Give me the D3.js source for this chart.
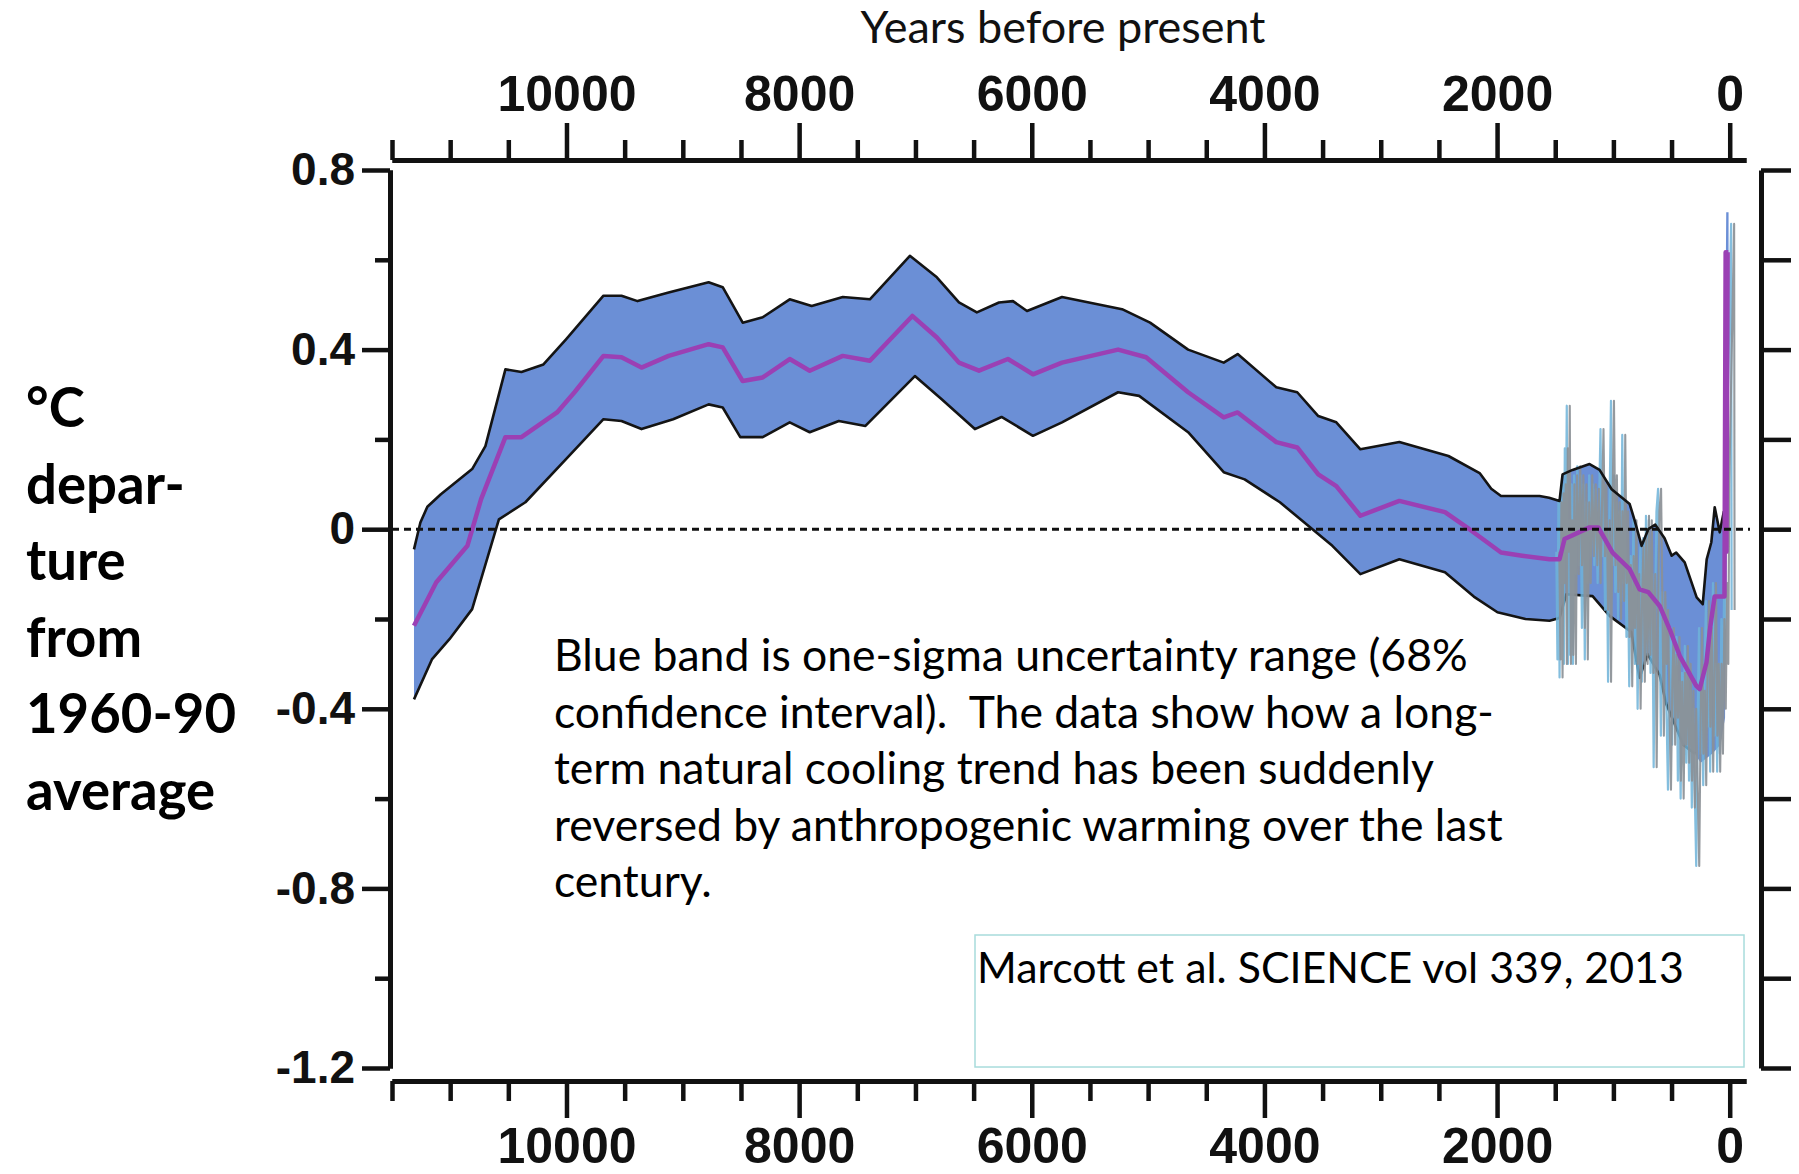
<!DOCTYPE html>
<html>
<head>
<meta charset="utf-8">
<title>Holocene temperature reconstruction</title>
<script src="https://cdn.jsdelivr.net/npm/d3@7"></script>
<style>
  html, body { margin: 0; padding: 0; background: #ffffff; }
  svg { display: block; }
</style>
</head>
<body>
<svg id="chart" width="1799" height="1174"></svg>
<script>
// ---- Data: years before present, temperature anomaly (°C vs 1960-90) ----
const upperBand = [
  [11311,-0.045],[11256,0.015],[11196,0.05],[11080,0.078],[10811,0.134],[10697,0.185],
  [10525,0.356],[10387,0.35],[10198,0.367],[10004,0.423],[9682,0.52],[9527,0.52],
  [9389,0.508],[9122,0.527],[8778,0.55],[8657,0.539],[8485,0.46],[8313,0.472],
  [8081,0.512],[7892,0.497],[7625,0.517],[7392,0.512],[7048,0.609],[6816,0.561],
  [6626,0.505],[6472,0.483],[6282,0.505],[6162,0.508],[6041,0.486],[5740,0.517],
  [5224,0.49],[4983,0.46],[4656,0.40],[4350,0.371],[4230,0.39],[3898,0.316],
  [3718,0.305],[3537,0.252],[3382,0.238],[3175,0.178],[2840,0.194],[2418,0.163],
  [2150,0.125],[2050,0.09],[1966,0.074],[1756,0.074],[1635,0.074],[1553,0.07],
  [1463,0.063],[1437,0.122],[1351,0.132],[1205,0.145],[1119,0.132],[1015,0.089],
  [860,0.056],[820,0.022],[757,-0.037],[700,0.0],[640,0.01],[560,-0.02],[499,-0.059],
  [460,-0.052],[387,-0.074],[284,-0.152],[232,-0.167],[198,-0.067],[158,-0.029],
  [129,0.049],[86,-0.007],[50,0.04],[30,0.706],[10,0.706]
];

const meanLine = [
  [11311,-0.215],[11119,-0.118],[10852,-0.037],[10734,0.067],[10525,0.205],[10387,0.205],
  [10081,0.26],[9931,0.305],[9682,0.386],[9527,0.383],[9355,0.36],[9122,0.386],
  [8778,0.412],[8657,0.405],[8485,0.33],[8313,0.338],[8081,0.379],[7909,0.353],
  [7625,0.386],[7392,0.375],[7027,0.475],[6816,0.427],[6626,0.371],[6454,0.353],
  [6205,0.379],[5990,0.345],[5740,0.371],[5258,0.40],[5017,0.383],[4656,0.305],
  [4350,0.249],[4230,0.26],[3898,0.194],[3718,0.182],[3537,0.122],[3382,0.096],
  [3175,0.03],[2840,0.063],[2448,0.038],[2238,0.0],[1966,-0.052],[1785,-0.059],
  [1549,-0.067],[1463,-0.067],[1420,-0.022],[1205,0.004],[1130,0.004],[1007,-0.052],
  [860,-0.089],[775,-0.134],[700,-0.14],[602,-0.171],[516,-0.223],[430,-0.282],
  [287,-0.349],[258,-0.356],[200,-0.297],[170,-0.223],[130,-0.15],[60,-0.15],
  [45,-0.15],[35,0.617],[28,-0.05],[18,0.617],[12,0.617]
];

const lowerBand = [
  [11311,-0.379],[11157,-0.29],[11006,-0.245],[10811,-0.178],[10581,0.022],[10353,0.06],
  [10004,0.156],[9682,0.245],[9527,0.241],[9355,0.223],[9083,0.245],[8778,0.278],
  [8657,0.271],[8506,0.205],[8313,0.205],[8081,0.238],[7909,0.216],[7659,0.241],
  [7430,0.23],[7005,0.341],[6777,0.29],[6489,0.223],[6260,0.25],[5990,0.208],
  [5740,0.238],[5258,0.305],[5077,0.297],[4656,0.216],[4350,0.127],[4170,0.111],
  [3867,0.06],[3657,0.015],[3416,-0.037],[3175,-0.1],[2840,-0.067],[2448,-0.096],
  [2200,-0.15],[1997,-0.185],[1756,-0.2],[1549,-0.204],[1463,-0.198],[1405,-0.145],
  [1179,-0.149],[1033,-0.193],[846,-0.229],[775,-0.331],[706,-0.278],[602,-0.325],
  [545,-0.39],[480,-0.43],[400,-0.48],[300,-0.50],[250,-0.52],[150,-0.50],
  [80,-0.48],[40,-0.42],[20,0.55],[10,0.55]
];

// High-resolution recent reconstruction (grey spikes)
const recentSpikes = [
  [1465,-0.05],[1455,-0.29],[1447,0.06],[1437,-0.33],[1428,0.08],[1418,-0.12],[1410,0.10],
  [1400,-0.30],[1392,0.18],[1384,-0.05],[1375,0.275],[1365,-0.30],[1355,0.02],[1345,-0.28],
  [1335,0.10],[1322,-0.30],[1312,0.12],[1298,-0.10],[1285,0.14],[1270,-0.08],[1258,0.12],
  [1245,-0.22],[1232,0.10],[1220,-0.29],[1208,0.06],[1195,-0.12],[1182,0.12],[1168,-0.06],
  [1152,0.10],[1138,-0.08],[1125,0.09],[1110,-0.12],[1098,0.05],[1085,0.223],[1072,-0.06],
  [1060,0.10],[1046,-0.18],[1032,0.02],[1020,-0.34],[1008,0.04],[995,0.286],[982,-0.08],
  [970,0.12],[958,-0.14],[946,0.06],[934,-0.20],[922,0.04],[908,-0.16],[898,0.21],
  [886,-0.12],[874,0.04],[862,-0.24],[850,-0.08],[838,-0.35],[826,-0.06],[814,-0.22],
  [802,0.02],[790,-0.30],[778,-0.10],[766,-0.40],[754,-0.16],[742,-0.04],[730,-0.34],
  [718,-0.02],[706,-0.30],[694,0.03],[682,-0.28],[670,0.02],[655,-0.32],[640,-0.10],
  [628,-0.53],[616,-0.20],[604,0.04],[590,0.09],[578,-0.18],[566,-0.46],[554,-0.14],
  [542,-0.30],[530,-0.18],[518,-0.40],[505,-0.58],[493,-0.34],[481,-0.22],[469,-0.48],
  [457,-0.28],[445,-0.42],[432,-0.24],[420,-0.56],[408,-0.34],[396,-0.60],[384,-0.32],
  [372,-0.48],[360,-0.26],[348,-0.52],[336,-0.30],[324,-0.56],[312,-0.36],[300,-0.62],
  [288,-0.40],[275,-0.58],[262,-0.75],[250,-0.42],[238,-0.22],[226,-0.50],[214,-0.36],
  [202,-0.57],[190,-0.30],[178,-0.16],[166,-0.44],[154,-0.22],[142,-0.54],[130,-0.30],
  [118,-0.12],[106,-0.46],[94,-0.30],[82,-0.54],[70,-0.30],[58,-0.50],[46,-0.20],
  [34,-0.40],[22,-0.12],[12,-0.30],[4,0.10],[-38,0.68],[-42,-0.18]
];

// ---- Axis labels ----
const xMajorTicks = [10000, 8000, 6000, 4000, 2000, 0];
const xMinorTicks = [11500,11000,10500,9500,9000,8500,7500,7000,6500,5500,5000,4500,3500,3000,2500,1500,1000,500];
const yMajorTicks = [0.8, 0.4, 0, -0.4, -0.8, -1.2];
const yMajorLabels = ["0.8", "0.4", "0", "-0.4", "-0.8", "-1.2"];
const yMinorTicks = [0.6, 0.2, -0.2, -0.6, -1.0];
const yAllTicks = [0.8, 0.6, 0.4, 0.2, 0, -0.2, -0.4, -0.6, -0.8, -1.0, -1.2];

const axisTitle = "Years before present";
const yTitleLines = ["°C", "depar-", "ture", "from", "1960-90", "average"];
const noteLines = [
  "Blue band is one-sigma uncertainty range (68%",
  "confidence interval).  The data show how a long-",
  "term natural cooling trend has been suddenly",
  "reversed by anthropogenic warming over the last",
  "century."
];
const sourceText = "Marcott et al. SCIENCE vol 339, 2013";

// ---- Layout ----
const svg = d3.select("#chart");
const x = d3.scaleLinear().domain([11500, -140]).range([392, 1746]);
const y = d3.scaleLinear().domain([0.8, -1.2]).range([170, 1068]);

const topY = 160, bottomY = 1081, leftX = 390, rightX = 1761;
const tickFont = "'Liberation Sans', Arial, Helvetica, sans-serif";
const textFont = "Lato, 'Open Sans', sans-serif";

// ---- Uncertainty band ----
const line = d3.line().x(d => x(d[0])).y(d => y(d[1]));
const bandPolygon = upperBand.concat(lowerBand.slice().reverse());
svg.append("path")
  .attr("d", line(bandPolygon) + "Z")
  .attr("fill", "#6b8fd6")
  .attr("stroke", "none");

// lower outline sits beneath the recent spikes and fades out under them
svg.append("path")
  .attr("d", line(lowerBand.filter(p => p[0] >= 300)))
  .attr("fill", "none").attr("stroke", "#141414").attr("stroke-width", 2.6)
  .attr("stroke-linejoin", "round");

// ---- Recent high-resolution spikes ----
svg.append("path")
  .attr("d", line(recentSpikes))
  .attr("fill", "none")
  .attr("stroke", "#6fb3d8")
  .attr("stroke-width", 2.2)
  .attr("stroke-linejoin", "round")
  .attr("opacity", 0.85)
  .attr("transform", "translate(-3,0)");
svg.append("path")
  .attr("d", line(recentSpikes))
  .attr("fill", "none")
  .attr("stroke", "#8b9096")
  .attr("stroke-width", 2.1)
  .attr("stroke-linejoin", "round")
  .attr("opacity", 0.92);

// upper outline drawn over the spikes
svg.append("path")
  .attr("d", line(upperBand.filter(p => p[0] >= 40)))
  .attr("fill", "none").attr("stroke", "#141414").attr("stroke-width", 2.6)
  .attr("stroke-linejoin", "round");

// ---- Mean reconstruction ----
svg.append("path")
  .attr("d", line(meanLine))
  .attr("fill", "none")
  .attr("stroke", "#9b40b4")
  .attr("stroke-width", 4.5)
  .attr("stroke-linejoin", "round");

// ---- Zero reference line ----
svg.append("line")
  .attr("x1", 392).attr("x2", 1750)
  .attr("y1", y(0)).attr("y2", y(0))
  .attr("stroke", "#111").attr("stroke-width", 3)
  .attr("stroke-dasharray", "7,5");

// ---- Axes ----
function styleAxis(g, fontSize) {
  g.select(".domain").attr("stroke", "#111").attr("stroke-width", 5);
  g.selectAll(".tick line").attr("stroke", "#111").attr("stroke-width", 4.5);
  g.selectAll(".tick text")
    .attr("fill", "#111")
    .style("font-family", tickFont)
    .style("font-weight", "bold")
    .style("font-size", fontSize + "px");
}

// top
const gTopMinor = svg.append("g").attr("transform", `translate(0,${topY})`)
  .call(d3.axisTop(x).tickValues(xMinorTicks).tickSize(20).tickSizeOuter(0).tickFormat(""));
styleAxis(gTopMinor, 50);
const gTop = svg.append("g").attr("transform", `translate(0,${topY})`)
  .call(d3.axisTop(x).tickValues(xMajorTicks).tickSize(37).tickSizeOuter(0).tickPadding(12)
    .tickFormat(d3.format("d")));
styleAxis(gTop, 50);

// bottom
const gBottomMinor = svg.append("g").attr("transform", `translate(0,${bottomY})`)
  .call(d3.axisBottom(x).tickValues(xMinorTicks).tickSize(20).tickSizeOuter(0).tickFormat(""));
styleAxis(gBottomMinor, 50);
const gBottom = svg.append("g").attr("transform", `translate(0,${bottomY})`)
  .call(d3.axisBottom(x).tickValues(xMajorTicks).tickSize(37).tickSizeOuter(0).tickPadding(9)
    .tickFormat(d3.format("d")));
styleAxis(gBottom, 50);

// left
const gLeftMinor = svg.append("g").attr("transform", `translate(${leftX},0)`)
  .call(d3.axisLeft(y).tickValues(yMinorTicks).tickSize(15).tickSizeOuter(0).tickFormat(""));
styleAxis(gLeftMinor, 46);
const gLeft = svg.append("g").attr("transform", `translate(${leftX},0)`)
  .call(d3.axisLeft(y).tickValues(yMajorTicks).tickSize(28).tickSizeOuter(0).tickPadding(7)
    .tickFormat((d, i) => yMajorLabels[i]));
styleAxis(gLeft, 46);

// right
const gRight = svg.append("g").attr("transform", `translate(${rightX},0)`)
  .call(d3.axisRight(y).tickValues(yAllTicks).tickSize(30).tickSizeOuter(0).tickFormat(""));
styleAxis(gRight, 46);

// ---- Text ----
function fitWidth(sel, target) {
  const w = sel.node().getComputedTextLength();
  const fs = parseFloat(sel.attr("font-size"));
  return fs * target / w;
}

const title = svg.append("text")
  .attr("x", 1063).attr("y", 43)
  .attr("text-anchor", "middle")
  .attr("font-family", textFont)
  .attr("font-size", 40)
  .attr("fill", "#111")
  .text(axisTitle);
title.attr("font-size", fitWidth(title, 405));

// y title, stacked lines
const yTitle = svg.append("g");
const probe = yTitle.append("text")
  .attr("font-family", textFont).attr("font-weight", "bold").attr("font-size", 60)
  .text(yTitleLines[4]);
const yTitleSize = fitWidth(probe, 210);
probe.remove();
yTitleLines.forEach((t, i) => {
  yTitle.append("text")
    .attr("x", 26).attr("y", 427 + i * 76.6)
    .attr("font-family", textFont).attr("font-weight", "bold")
    .attr("font-size", yTitleSize)
    .attr("fill", "#000")
    .text(t);
});

// explanatory note
const note = svg.append("g");
const noteProbe = note.append("text")
  .attr("font-family", textFont).attr("font-size", 40)
  .text(noteLines[0]);
const noteSize = fitWidth(noteProbe, 914);
noteProbe.remove();
noteLines.forEach((t, i) => {
  note.append("text")
    .attr("x", 554).attr("y", 671 + i * 56.5)
    .attr("font-family", textFont)
    .attr("font-size", noteSize)
    .attr("fill", "#000")
    .attr("xml:space", "preserve")
    .style("white-space", "pre")
    .text(t);
});

// source box
svg.append("rect")
  .attr("x", 975).attr("y", 935).attr("width", 769).attr("height", 132)
  .attr("fill", "none").attr("stroke", "#a8dcdc").attr("stroke-width", 1.5);
const src = svg.append("text")
  .attr("x", 977).attr("y", 983)
  .attr("font-family", textFont).attr("font-size", 40)
  .attr("fill", "#000")
  .text(sourceText);
src.attr("font-size", fitWidth(src, 707));
</script>
</body>
</html>
